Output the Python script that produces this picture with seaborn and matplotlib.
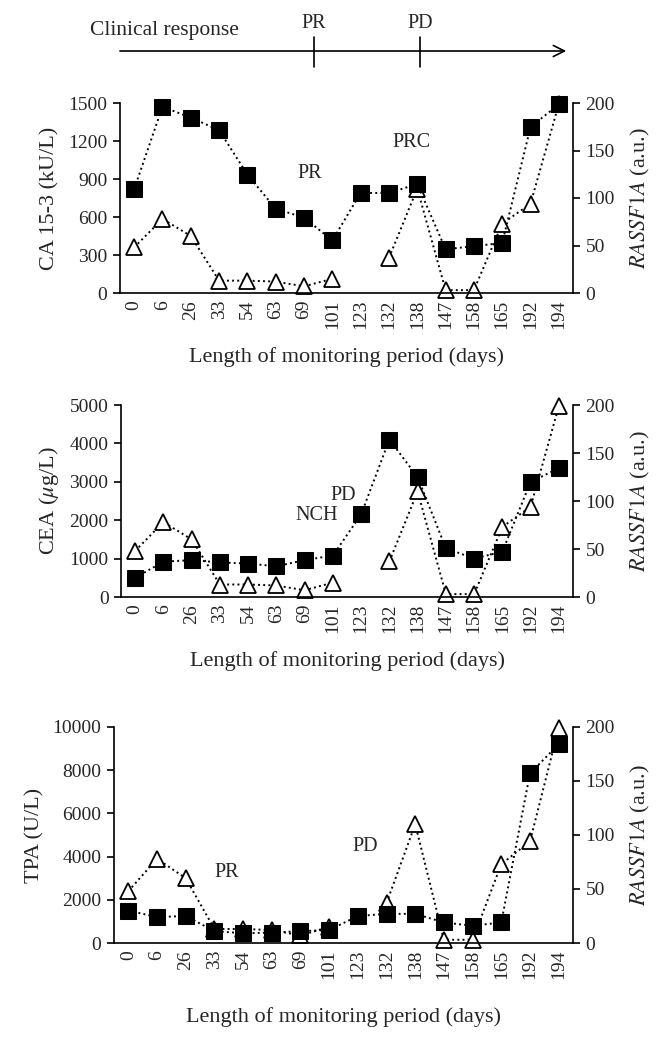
import numpy as np
import pandas as pd
import matplotlib
matplotlib.use("Agg")
import matplotlib.pyplot as plt
import seaborn as sns

days = ["0", "6", "26", "33", "54", "63", "69", "101", "123", "132", "138", "147", "158", "165", "192", "194"]
ca153 = [820, 1470, 1385, 1285, 935, 665, 595, 415, 790, 790, 860, 345, 370, 395, 1310, 1490]
cea = [500, 920, 960, 900, 870, 800, 960, 1080, 2150, 4100, 3120, 1270, 1000, 1180, 3000, 3350]
tpa = [1500, 1200, 1250, 550, 450, 480, 550, 600, 1250, 1350, 1350, 950, 800, 950, 7850, 9200]
rassf1a = [48, 78, 60, 13, 13, 12, 7, 15, np.nan, 37, 110, 3, 3, 73, 94, 199]

response_labels = ["PR", "PD"]
response_pos = [6.35, 10.1]

df = pd.DataFrame({"pos": np.arange(len(days)), "CA": ca153, "CEA": cea, "TPA": tpa, "RASSF1A": rassf1a})
df["seg"] = df["RASSF1A"].isna().cumsum()

sns.set_theme(style="ticks")
plt.rcParams["font.family"] = ["Liberation Serif", "DejaVu Serif"]
plt.rcParams["mathtext.fontset"] = "stix"

W, H = 661, 1037
fig = plt.figure(figsize=(W / 100, H / 100), dpi=100)

# clinical response arrow on top
ax0 = fig.add_axes([120 / W, 1 - 75 / H, 453 / W, 65 / H])
ax0.set_xlim(-0.5, len(days) - 0.5)
ax0.set_ylim(75, 10)
ax0.axis("off")
ax0.annotate("", xy=(15.36, 51), xytext=(-0.6, 51),
             arrowprops=dict(arrowstyle="->", lw=1.2, color="black", mutation_scale=20))
for lab, p in zip(response_labels, response_pos):
    ax0.plot([p, p], [37, 67], color="black", lw=1.2)
    ax0.text(p, 24, lab, ha="center", va="center", fontsize=14.5)
fig.text(90 / W, 1 - 30 / H, "Clinical response", ha="left", va="center", fontsize=15.5)

panels = [
    dict(col="CA", ylabel="CA 15-3 (kU/L)", ymax=1500, step=300, box=(120, 103, 573, 293), pad=13,
         notes=[("PR", 6.21, 940), ("PRC", 9.79, 1190)]),
    dict(col="CEA", ylabel="CEA ($\\mathit{\\mu}$g/L)", ymax=5000, step=1000, box=(121, 405, 573, 597), pad=13,
         notes=[("PD", 7.36, 2640), ("NCH", 6.43, 2120)]),
    dict(col="TPA", ylabel="TPA (U/L)", ymax=10000, step=2000, box=(114, 727, 573, 943), pad=20,
         notes=[("PR", 3.42, 3250), ("PD", 8.24, 4450)]),
]

for p in panels:
    x0, y0, x1, y1 = p["box"]
    ax = fig.add_axes([x0 / W, 1 - y1 / H, (x1 - x0) / W, (y1 - y0) / H])
    ax2 = ax.twinx()

    sns.lineplot(data=df, x="pos", y="RASSF1A", units="seg", estimator=None, ax=ax2,
                 color="black", linestyle=":", linewidth=1.4, marker="^", markersize=12,
                 markerfacecolor="white", markeredgecolor="black", markeredgewidth=1.3, clip_on=False)
    sns.lineplot(data=df, x="pos", y=p["col"], ax=ax, color="black", linestyle=":",
                 linewidth=1.4, marker="s", markersize=11.5, markeredgecolor="black", clip_on=False)

    ax.set_zorder(ax2.get_zorder() + 1)
    ax.patch.set_visible(False)

    ax.set_xlim(-0.5, len(days) - 0.5)
    ax.set_ylim(0, p["ymax"])
    ax.set_yticks(np.arange(0, p["ymax"] + 1, p["step"]))
    ax2.set_ylim(0, 200)
    ax2.set_yticks([0, 50, 100, 150, 200])
    ax.set_xticks(df["pos"])
    ax.set_xticklabels(days, rotation=90)

    ax.set_ylabel(p["ylabel"], fontsize=16, labelpad=6)
    ax2.set_ylabel("$\\mathit{RASSF1A}$ (a.u.)", fontsize=16, labelpad=10)
    ax.set_xlabel("Length of monitoring period (days)", fontsize=16, labelpad=p["pad"])

    for a in (ax, ax2):
        a.spines["top"].set_visible(False)
        for s in ("left", "right", "bottom"):
            a.spines[s].set_linewidth(1.2)
            a.spines[s].set_color("black")
        a.tick_params(axis="y", labelsize=14, length=5, width=1.2, color="black", pad=4)
    ax.tick_params(axis="x", labelsize=14, length=0, pad=5)
    ax.spines["right"].set_visible(False)
    ax2.spines["left"].set_visible(False)
    ax2.spines["bottom"].set_visible(False)

    for txt, xx, yy in p["notes"]:
        ax.text(xx, yy, txt, ha="center", va="center", fontsize=14.5)

fig.savefig("out.png", dpi=100)
